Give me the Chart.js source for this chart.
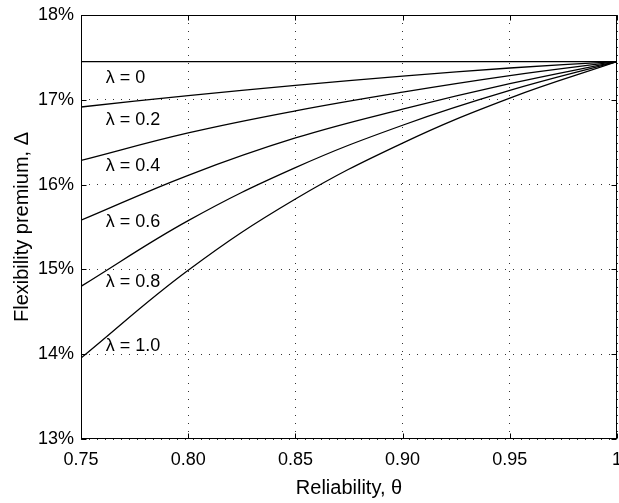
<!DOCTYPE html>
<html>
<head>
<meta charset="utf-8">
<script src="https://cdn.jsdelivr.net/npm/chart.js@4"></script>
<style>
  html,body{margin:0;padding:0;background:#fff;}
  #wrap{width:619px;height:503px;}
</style>
</head>
<body>
<div id="wrap"><canvas id="chart" width="619" height="503"></canvas></div>
<script>
// Flexibility premium vs reliability, one curve per lambda
const theta = [0.75, 0.80, 0.85, 0.90, 0.95, 1.00];
const lambdaNames = ['λ = 0', 'λ = 0.2', 'λ = 0.4', 'λ = 0.6', 'λ = 0.8', 'λ = 1.0'];
const premL00 = [17.45, 17.45, 17.45, 17.45, 17.45, 17.45];
const premL02 = [16.915, 17.05, 17.17, 17.28, 17.375, 17.45];
const premL04 = [16.285, 16.61, 16.87, 17.09, 17.285, 17.45];
const premL06 = [15.58, 16.11, 16.55, 16.89, 17.19, 17.45];
const premL08 = [14.80, 15.575, 16.20, 16.70, 17.11, 17.45];
const premL10 = [13.955, 14.99, 15.83, 16.49, 17.02, 17.45];
// where the in-plot labels sit (theta, premium %)
const labelTheta = 0.7615;
const labelPrem = [17.26, 16.765, 16.22, 15.56, 14.855, 14.10];

const xTicks = [0.75, 0.80, 0.85, 0.90, 0.95, 1.00];
const yTicks = [13, 14, 15, 16, 17, 18];

const series = [premL00, premL02, premL04, premL06, premL08, premL10];

Chart.defaults.font.family = "'Liberation Sans', Arial, Helvetica, sans-serif";
Chart.defaults.color = '#000';

const frame = {
  id: 'frame',
  afterDatasetsDraw(chart){
    const {ctx, chartArea:a, scales:{x, y}} = chart;
    ctx.save();
    ctx.strokeStyle = '#000';
    ctx.lineWidth = 1;
    const L = Math.round(a.left)+0.5, R = Math.round(a.right)-0.5;
    const T = Math.round(a.top)+0.5, B = Math.round(a.bottom)-0.5;
    ctx.strokeRect(L, T, R-L, B-T);
    // inward tick marks on all sides
    ctx.beginPath();
    xTicks.forEach(v=>{
      const px = Math.round(x.getPixelForValue(v))+0.5;
      ctx.moveTo(px, B); ctx.lineTo(px, B-5);
      ctx.moveTo(px, T); ctx.lineTo(px, T+5);
    });
    yTicks.forEach(v=>{
      const py = Math.round(y.getPixelForValue(v))+0.5;
      ctx.moveTo(L, py); ctx.lineTo(L+5, py);
      ctx.moveTo(R, py); ctx.lineTo(R-5, py);
    });
    ctx.stroke();
    // curve labels
    ctx.fillStyle = '#000';
    ctx.font = "18px 'Liberation Sans', Arial, Helvetica, sans-serif";
    ctx.textAlign = 'left';
    ctx.textBaseline = 'middle';
    lambdaNames.forEach((t,i)=>{
      ctx.fillText(t, x.getPixelForValue(labelTheta), y.getPixelForValue(labelPrem[i]));
    });
    ctx.restore();
  }
};

const ctx = document.getElementById('chart').getContext('2d');
new Chart(ctx, {
  type: 'line',
  data: {
    datasets: series.map((s,i)=>({
      label: lambdaNames[i],
      data: theta.map((t,j)=>({x:t, y:s[j]})),
      borderColor: '#000',
      borderWidth: 1.3,
      pointRadius: 0,
      fill: false,
      tension: 0.4
    }))
  },
  options: {
    responsive: false,
    animation: false,
    devicePixelRatio: 1,
    layout: {padding: {top: 15, right: 2, left: 0, bottom: 0}},
    plugins: {legend: {display: false}, tooltip: {enabled: false}},
    scales: {
      x: {
        type: 'linear', min: 0.75, max: 1,
        afterBuildTicks: s => { s.ticks = xTicks.map(v=>({value:v})); },
        afterFit: s => { s.height = 64; s.paddingLeft = 0; s.paddingRight = 0; },
        ticks: {
          font: {size: 18}, padding: 10, maxRotation: 0,
          callback: v => Math.abs(v-1) < 1e-9 ? '1' : v.toFixed(2)
        },
        grid: {color: '#333', lineWidth: 1, drawTicks: false},
        border: {display: false, dash: [1, 7]},
        title: {display: true, text: 'Reliability, θ', font: {size: 20}, padding: {top: 0, bottom: 3}}
      },
      y: {
        min: 13, max: 18,
        afterBuildTicks: s => { s.ticks = yTicks.map(v=>({value:v})); },
        afterFit: s => { s.width = 81; s.paddingTop = 0; s.paddingBottom = 0; },
        ticks: {font: {size: 18}, padding: 7, callback: v => v + '%'},
        grid: {color: '#333', lineWidth: 1, drawTicks: false},
        border: {display: false, dash: [1, 7]},
        title: {display: true, text: 'Flexibility premium, Δ', font: {size: 20}, padding: {top: 10, bottom: 0}}
      }
    }
  },
  plugins: [frame]
});
</script>
</body>
</html>
